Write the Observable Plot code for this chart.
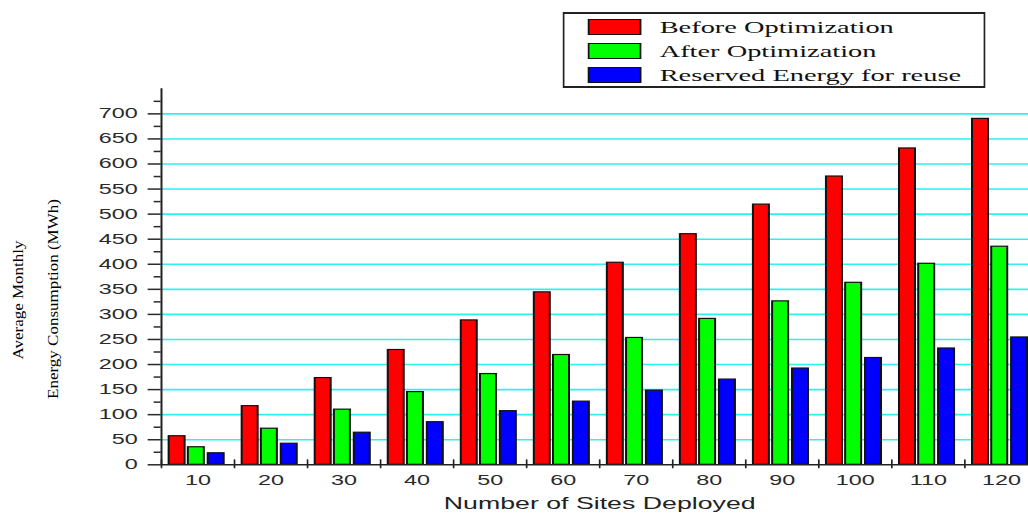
<!DOCTYPE html>
<html>
<head>
<meta charset="utf-8">
<script src="https://cdn.jsdelivr.net/npm/d3@7"></script>
<script src="https://cdn.jsdelivr.net/npm/@observablehq/plot@0.6"></script>
<style>
html, body { margin:0; padding:0; overflow:hidden; background:#fff; width:1028px; height:513px; }
#wrap { position:relative; width:621px; height:513px; transform:scaleX(1.67); transform-origin:0 0; }
#chart { position:absolute; left:0; top:0; }
#legend { position:absolute; left:336.5px; top:11.7px; width:253.3px; height:76.6px; box-sizing:border-box;
  border-top:2px solid #222; border-bottom:2px solid #222; border-left:1.2px solid #222; border-right:1.2px solid #222;
  font-family:"Liberation Serif","Times New Roman",serif; font-size:17px; color:#111; background:#fff; }
.sw { position:absolute; left:14.5px; width:32.3px; height:16px; box-sizing:border-box; border:1.4px solid #111; }
.lab { position:absolute; left:57.5px; white-space:nowrap; line-height:16px; height:16px; }
.yt { position:absolute; width:260px; height:20px; line-height:20px; text-align:center;
  font-family:"Liberation Serif","Times New Roman",serif; font-size:17px; color:#000;
  transform:rotate(-90deg) scaleY(0.53); transform-origin:50% 50%; white-space:nowrap; }
</style>
</head>
<body>
<div id="wrap">
  <div id="chart"></div>
  <div id="legend"></div>
  <div class="yt" id="yt1"></div>
  <div class="yt" id="yt2"></div>
</div>
<script>
// ---- data ----
const sites = [10, 20, 30, 40, 50, 60, 70, 80, 90, 100, 110, 120];
const before = [57, 117, 173, 229, 288, 344, 403, 460, 519, 575, 631, 690];
const after = [35, 72, 110, 145, 181, 219, 253, 291, 326, 363, 401, 435];
const reserved = [23, 42, 64, 85, 107, 126, 148, 170, 192, 213, 232, 254];
const seriesNames = ["Before Optimization", "After Optimization", "Reserved Energy for reuse"];
const majorTicks = [0, 50, 100, 150, 200, 250, 300, 350, 400, 450, 500, 550, 600, 650, 700];
const minorTicks = [25, 75, 125, 175, 225, 275, 325, 375, 425, 475, 525, 575, 625, 675, 725];
const gridTicks = [50, 100, 150, 200, 250, 300, 350, 400, 450, 500, 550, 600, 650, 700];
const xTitle = "Number of Sites Deployed";
const yTitle = ["Average Monthly", "Energy Consumption (MWh)"];

// ---- layout (unscaled; wrapper is stretched horizontally) ----
const S = 1.67;
const W = 621, H = 513;
const mL = 96.2, mT = 88.3, mB = 48.7;
const step = (W - mL) / sites.length;
const barW = 16 / S;
const inset = (step - barW) / 2;

const rows = vals => sites.map((s, i) => ({sites: s, value: vals[i]}));
const seriesDefs = [
  {name: seriesNames[0], vals: before, fill: "#ff0000", dx: -12.3},
  {name: seriesNames[1], vals: after, fill: "#00ff00", dx: -0.8},
  {name: seriesNames[2], vals: reserved, fill: "#0000ff", dx: 11.1}
];

const tickShape = {draw(ctx, l) { ctx.moveTo(0, 0); ctx.lineTo(0, -l); }};

const plot = Plot.plot({
  width: W,
  height: H,
  marginLeft: mL,
  marginRight: 0,
  marginTop: mT,
  marginBottom: mB,
  style: {fontFamily: '"Liberation Sans", Arial, sans-serif', fontSize: "14px", color: "#222", background: "transparent"},
  x: {type: "band", domain: sites, padding: 0, round: false},
  y: {domain: [0, 750]},
  marks: [
    Plot.gridY(gridTicks, {stroke: "#2ef0f0", strokeOpacity: 1, strokeWidth: 1.6}),
    ...seriesDefs.map(s => Plot.barY(rows(s.vals), {
      x: "sites", y: "value", fill: s.fill, stroke: "#111", strokeWidth: 1.2,
      insetLeft: inset, insetRight: inset, dx: s.dx
    })),
    Plot.ruleY([0], {stroke: "#222", strokeWidth: 1.6}),
    Plot.frame({anchor: "left", stroke: "#222", strokeWidth: 1.2}),
    Plot.axisY(majorTicks, {tickSize: 7.8, tickPadding: 6.4, fontSize: 14, label: null, color: "#2a2a2a", strokeWidth: 1.5}),
    Plot.axisY(minorTicks, {tickSize: 4.2, tickFormat: () => "", label: null, color: "#2a2a2a", strokeWidth: 1.5}),
    Plot.axisX({tickSize: 0, tickPadding: 10.5, fontSize: 14, label: null, color: "#2a2a2a"}),
    Plot.vector(sites, {x: d => d, y: d => 0, dx: -step / 2, dy: -1, length: 8, rotate: 0,
      anchor: "middle", shape: tickShape, stroke: "#222", strokeWidth: 1}),
    Plot.text([xTitle], {text: d => d, frameAnchor: "bottom", lineAnchor: "top", dy: 33, fontSize: 16, fill: "#222"})
  ]
});
document.getElementById("chart").appendChild(plot);

// ---- legend ----
const legend = document.getElementById("legend");
const rowTops = [5.3, 29, 53];
seriesDefs.forEach((s, i) => {
  const sw = document.createElement("div");
  sw.className = "sw";
  sw.style.top = rowTops[i] + "px";
  sw.style.background = s.fill;
  legend.appendChild(sw);
  const lab = document.createElement("div");
  lab.className = "lab";
  lab.style.top = (rowTops[i] + 1.5) + "px";
  lab.textContent = s.name;
  legend.appendChild(lab);
});

// ---- y title ----
const yt1 = document.getElementById("yt1");
const yt2 = document.getElementById("yt2");
yt1.textContent = yTitle[0];
yt2.textContent = yTitle[1];
yt1.style.left = (11.1 - 130) + "px"; yt1.style.top = (300 - 10) + "px";
yt2.style.left = (31.7 - 130) + "px"; yt2.style.top = (299 - 10) + "px";
</script>
</body>
</html>
